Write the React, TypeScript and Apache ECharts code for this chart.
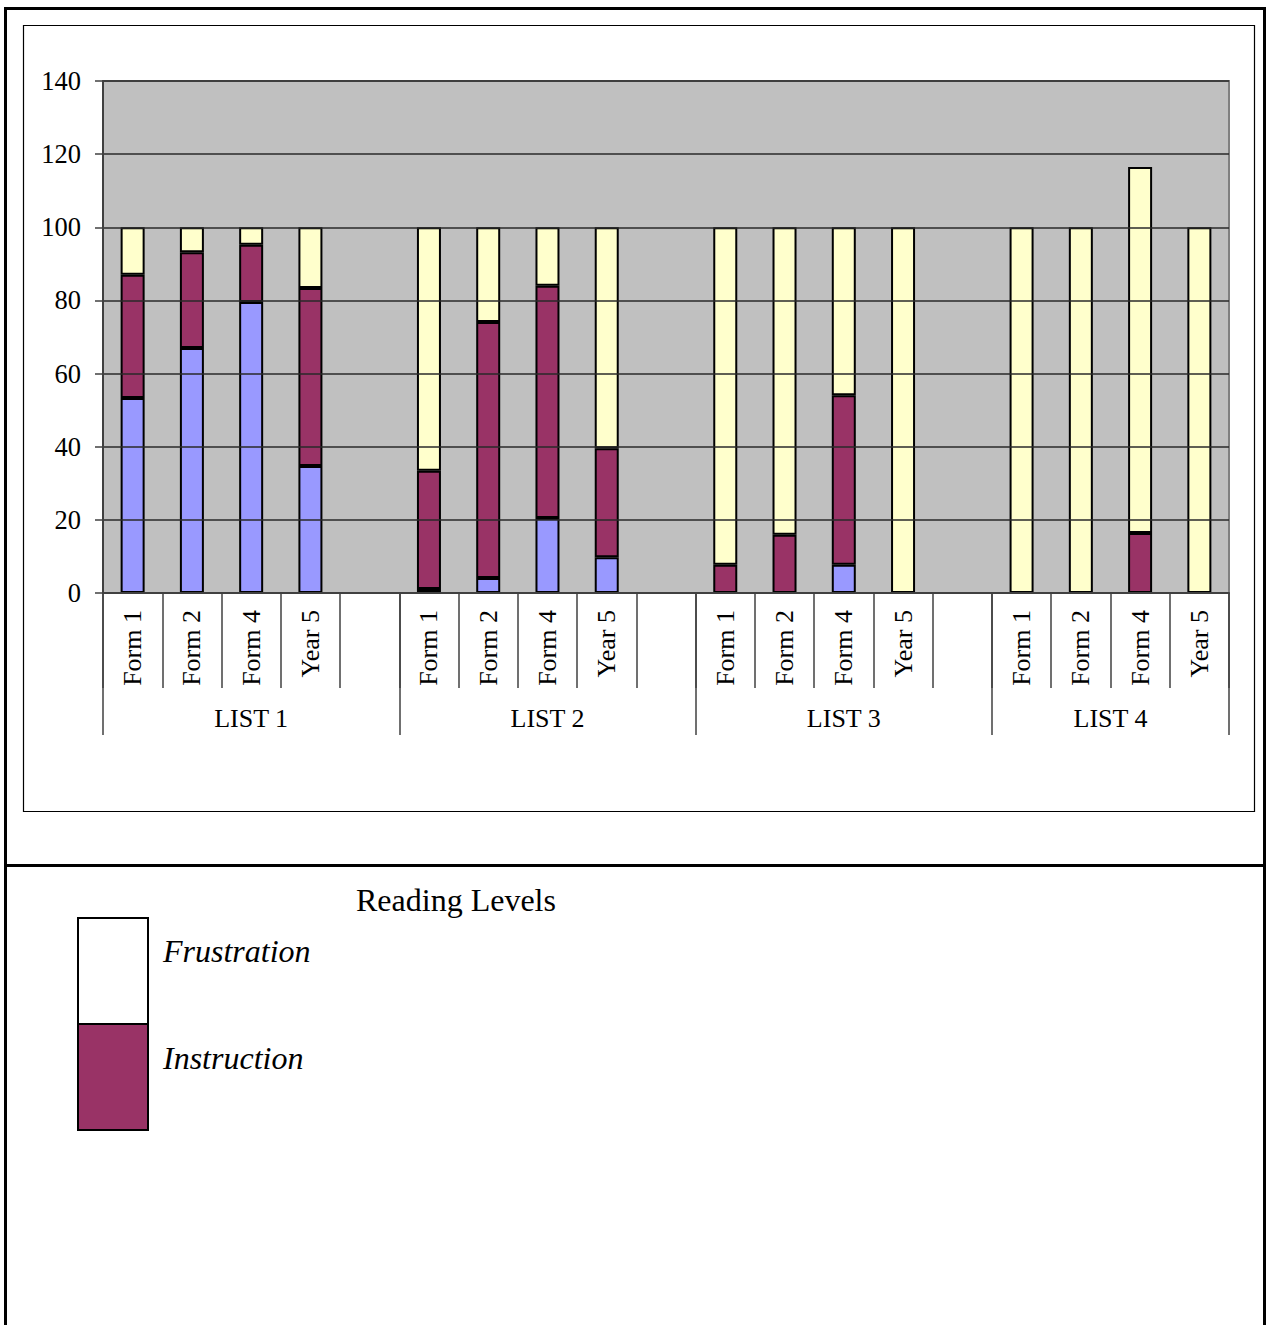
import React, { useEffect, useRef } from "react";
import * as echarts from "echarts";

const groupLabels = ["LIST 1", "LIST 2", "LIST 3", "LIST 4"];
const formLabels = ["Form 1", "Form 2", "Form 4", "Year 5"];

// per group: Form 1, Form 2, Form 4, Year 5
const independent = [
  [53.3, 67.0, 79.6, 34.7],
  [1.1, 4.1, 20.5, 9.8],
  [0, 0, 7.7, 0],
  [0, 0, 0, 0],
];
const instruction = [
  [33.7, 26.2, 15.6, 48.7],
  [32.3, 70.0, 63.5, 29.8],
  [7.7, 15.9, 46.4, 0],
  [0, 0, 16.4, 0],
];
const frustration = [
  [13.0, 6.8, 4.8, 16.6],
  [66.6, 25.9, 16.0, 60.4],
  [92.3, 84.1, 45.9, 100],
  [100, 100, 100.1, 100],
];

const yTicks = [0, 20, 40, 60, 80, 100, 120, 140];

const FONT = "'Liberation Serif', 'Times New Roman', serif";

function flatten(groups: number[][]): (number | string)[] {
  const out: (number | string)[] = [];
  groups.forEach((g, i) => {
    g.forEach((v) => out.push(v));
    if (i < groups.length - 1) out.push("-");
  });
  return out;
}

const categories: string[] = [];
groupLabels.forEach((_, i) => {
  formLabels.forEach((f) => categories.push(f));
  if (i < groupLabels.length - 1) categories.push("");
});

// group boundaries and centers on the slot scale
const groupBounds: number[] = [0];
const groupCenters: number[] = [];
{
  let pos = 0;
  groupLabels.forEach((_, i) => {
    const last = i === groupLabels.length - 1;
    const size = formLabels.length + (last ? 0 : 1);
    groupCenters.push(pos + size / 2);
    pos += size;
    groupBounds.push(pos);
  });
}

export default function App() {
  const ref = useRef<HTMLDivElement>(null);
  useEffect(() => {
    if (!ref.current) return;
    const chart = echarts.init(ref.current, null, { renderer: "svg" });
    const barStyle = (color: string) => ({
      color,
      borderColor: "#000",
      borderWidth: 2,
    });
    chart.setOption({
      animation: false,
      backgroundColor: "#fff",
      grid: {
        left: 103,
        top: 81,
        width: 1126,
        height: 512,
        show: true,
        backgroundColor: "#C0C0C0",
        borderColor: "#808080",
        borderWidth: 2,
      },
      xAxis: [
        {
          type: "category",
          data: categories,
          boundaryGap: true,
          axisLine: { lineStyle: { color: "#404040", width: 2 } },
          axisTick: {
            show: true,
            interval: 0,
            length: 95,
            lineStyle: { color: "#404040", width: 1.5 },
          },
          axisLabel: {
            interval: 0,
            rotate: 90,
            margin: 17,
            fontSize: 26,
            fontFamily: FONT,
            color: "#000",
          },
          splitLine: { show: false },
          z: 5,
        },
        {
          type: "value",
          min: 0,
          max: groupBounds[groupBounds.length - 1],
          position: "bottom",
          axisLine: { show: false },
          splitLine: { show: false },
          axisTick: {
            show: true,
            customValues: groupBounds,
            length: 142,
            lineStyle: { color: "#404040", width: 1.5 },
          },
          axisLabel: {
            customValues: groupCenters,
            margin: 112,
            fontSize: 26,
            fontFamily: FONT,
            color: "#000",
            formatter: (v: number) => {
              const idx = groupCenters.findIndex((c) => Math.abs(c - v) < 1e-6);
              return idx >= 0 ? groupLabels[idx] : "";
            },
          },
          z: 5,
        },
      ],
      yAxis: {
        type: "value",
        min: 0,
        max: 140,
        interval: 20,
        axisLine: { show: true, lineStyle: { color: "#404040", width: 2 } },
        axisTick: { show: true, inside: false, length: 8, lineStyle: { color: "#404040", width: 1.5 } },
        axisLabel: {
          margin: 22,
          fontSize: 26.5,
          fontFamily: FONT,
          color: "#000",
          formatter: (v: number) => (yTicks.includes(v) ? String(v) : ""),
        },
        splitLine: { show: true, lineStyle: { color: "#2a2a2a", width: 1.5 } },
        z: 5,
      },
      series: [
        {
          name: "Independent",
          type: "bar",
          stack: "levels",
          barWidth: 24,
          data: flatten(independent),
          itemStyle: barStyle("#9999FF"),
        },
        {
          name: "Instruction",
          type: "bar",
          stack: "levels",
          barWidth: 24,
          data: flatten(instruction),
          itemStyle: barStyle("#993366"),
        },
        {
          name: "Frustration",
          type: "bar",
          stack: "levels",
          barWidth: 24,
          data: flatten(frustration),
          itemStyle: barStyle("#FFFFCC"),
        },
      ],
      graphic: [
        // outer frame
        {
          type: "line",
          shape: { x1: 5.5, y1: 8.5, x2: 5.5, y2: 1330 },
          style: { stroke: "#000", lineWidth: 3 },
          silent: true,
        },
        {
          type: "line",
          shape: { x1: 4, y1: 8.5, x2: 1266, y2: 8.5 },
          style: { stroke: "#000", lineWidth: 3 },
          silent: true,
        },
        {
          type: "line",
          shape: { x1: 1264.5, y1: 8.5, x2: 1264.5, y2: 1330 },
          style: { stroke: "#000", lineWidth: 3 },
          silent: true,
        },
        {
          type: "line",
          shape: { x1: 4, y1: 865.5, x2: 1266, y2: 865.5 },
          style: { stroke: "#000", lineWidth: 3 },
          silent: true,
        },
        // inner chart box
        {
          type: "rect",
          shape: { x: 23.5, y: 25.5, width: 1231, height: 786 },
          style: { fill: "none", stroke: "#000", lineWidth: 1.2 },
          silent: true,
        },
        // legend
        {
          type: "text",
          x: 356,
          y: 884,
          style: {
            text: "Reading Levels",
            font: `32px ${FONT}`,
            fill: "#000",
            verticalAlign: "top",
          },
        },
        {
          type: "rect",
          shape: { x: 78, y: 918, width: 70, height: 106 },
          style: { fill: "#fff", stroke: "#000", lineWidth: 2 },
        },
        {
          type: "rect",
          shape: { x: 78, y: 1024, width: 70, height: 106 },
          style: { fill: "#993366", stroke: "#000", lineWidth: 2 },
        },
        {
          type: "text",
          x: 163,
          y: 935,
          style: {
            text: "Frustration",
            font: `italic 32px ${FONT}`,
            fill: "#000",
            verticalAlign: "top",
          },
        },
        {
          type: "text",
          x: 163,
          y: 1042,
          style: {
            text: "Instruction",
            font: `italic 32px ${FONT}`,
            fill: "#000",
            verticalAlign: "top",
          },
        },
      ],
    });
    return () => chart.dispose();
  }, []);
  return (
    <div
      ref={ref}
      style={{ position: "absolute", left: 0, top: 0, width: 1267, height: 1325 }}
    />
  );
}
